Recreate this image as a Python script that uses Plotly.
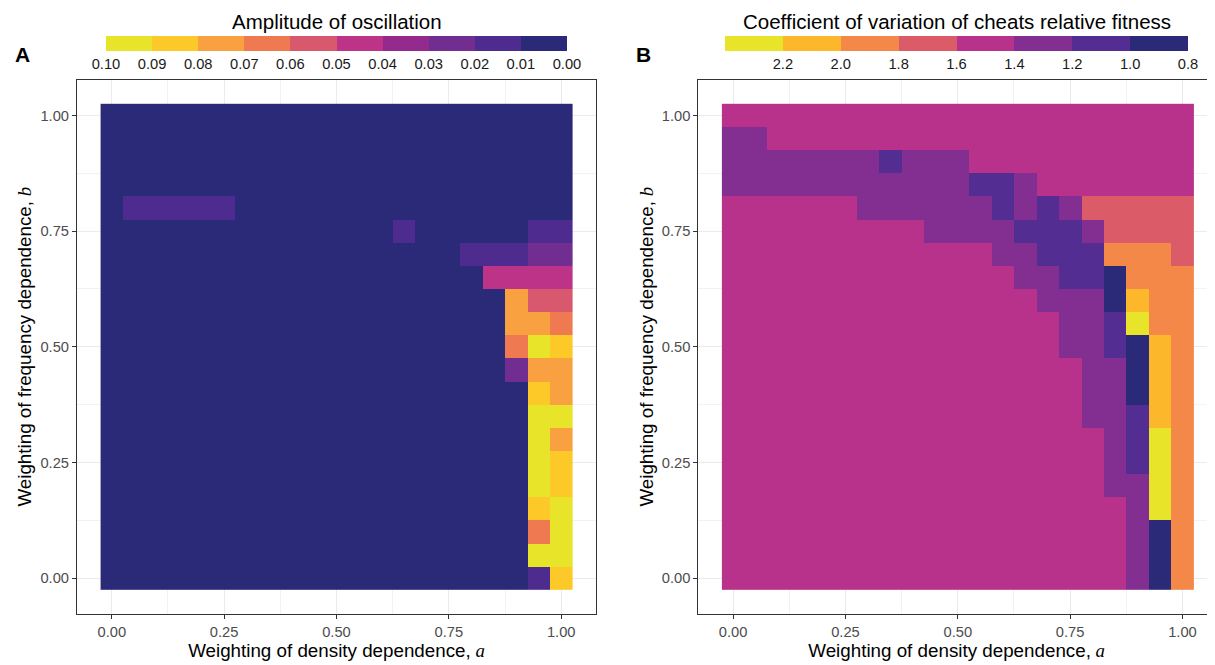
import plotly.graph_objects as go

# ---------------- data ----------------
a_vals = [0.00, 0.05, 0.10, 0.15, 0.20, 0.25, 0.30, 0.35, 0.40, 0.45, 0.50,
          0.55, 0.60, 0.65, 0.70, 0.75, 0.80, 0.85, 0.90, 0.95, 1.00]
b_vals = [1.00, 0.95, 0.90, 0.85, 0.80, 0.75, 0.70, 0.65, 0.60, 0.55, 0.50,
          0.45, 0.40, 0.35, 0.30, 0.25, 0.20, 0.15, 0.10, 0.05, 0.00]

# Panel A: amplitude of oscillation (rows follow b_vals, columns follow a_vals)
amplitude = [
    [0.005, 0.005, 0.005, 0.005, 0.005, 0.005, 0.005, 0.005, 0.005, 0.005, 0.005, 0.005, 0.005, 0.005, 0.005, 0.005, 0.005, 0.005, 0.005, 0.005, 0.005],
    [0.005, 0.005, 0.005, 0.005, 0.005, 0.005, 0.005, 0.005, 0.005, 0.005, 0.005, 0.005, 0.005, 0.005, 0.005, 0.005, 0.005, 0.005, 0.005, 0.005, 0.005],
    [0.005, 0.005, 0.005, 0.005, 0.005, 0.005, 0.005, 0.005, 0.005, 0.005, 0.005, 0.005, 0.005, 0.005, 0.005, 0.005, 0.005, 0.005, 0.005, 0.005, 0.005],
    [0.005, 0.005, 0.005, 0.005, 0.005, 0.005, 0.005, 0.005, 0.005, 0.005, 0.005, 0.005, 0.005, 0.005, 0.005, 0.005, 0.005, 0.005, 0.005, 0.005, 0.005],
    [0.005, 0.015, 0.015, 0.015, 0.015, 0.015, 0.005, 0.005, 0.005, 0.005, 0.005, 0.005, 0.005, 0.005, 0.005, 0.005, 0.005, 0.005, 0.005, 0.005, 0.005],
    [0.005, 0.005, 0.005, 0.005, 0.005, 0.005, 0.005, 0.005, 0.005, 0.005, 0.005, 0.005, 0.005, 0.015, 0.005, 0.005, 0.005, 0.005, 0.005, 0.015, 0.015],
    [0.005, 0.005, 0.005, 0.005, 0.005, 0.005, 0.005, 0.005, 0.005, 0.005, 0.005, 0.005, 0.005, 0.005, 0.005, 0.005, 0.015, 0.015, 0.015, 0.025, 0.025],
    [0.005, 0.005, 0.005, 0.005, 0.005, 0.005, 0.005, 0.005, 0.005, 0.005, 0.005, 0.005, 0.005, 0.005, 0.005, 0.005, 0.005, 0.045, 0.045, 0.045, 0.045],
    [0.005, 0.005, 0.005, 0.005, 0.005, 0.005, 0.005, 0.005, 0.005, 0.005, 0.005, 0.005, 0.005, 0.005, 0.005, 0.005, 0.005, 0.005, 0.075, 0.055, 0.055],
    [0.005, 0.005, 0.005, 0.005, 0.005, 0.005, 0.005, 0.005, 0.005, 0.005, 0.005, 0.005, 0.005, 0.005, 0.005, 0.005, 0.005, 0.005, 0.075, 0.075, 0.065],
    [0.005, 0.005, 0.005, 0.005, 0.005, 0.005, 0.005, 0.005, 0.005, 0.005, 0.005, 0.005, 0.005, 0.005, 0.005, 0.005, 0.005, 0.005, 0.065, 0.095, 0.085],
    [0.005, 0.005, 0.005, 0.005, 0.005, 0.005, 0.005, 0.005, 0.005, 0.005, 0.005, 0.005, 0.005, 0.005, 0.005, 0.005, 0.005, 0.005, 0.025, 0.075, 0.075],
    [0.005, 0.005, 0.005, 0.005, 0.005, 0.005, 0.005, 0.005, 0.005, 0.005, 0.005, 0.005, 0.005, 0.005, 0.005, 0.005, 0.005, 0.005, 0.005, 0.085, 0.075],
    [0.005, 0.005, 0.005, 0.005, 0.005, 0.005, 0.005, 0.005, 0.005, 0.005, 0.005, 0.005, 0.005, 0.005, 0.005, 0.005, 0.005, 0.005, 0.005, 0.095, 0.095],
    [0.005, 0.005, 0.005, 0.005, 0.005, 0.005, 0.005, 0.005, 0.005, 0.005, 0.005, 0.005, 0.005, 0.005, 0.005, 0.005, 0.005, 0.005, 0.005, 0.095, 0.075],
    [0.005, 0.005, 0.005, 0.005, 0.005, 0.005, 0.005, 0.005, 0.005, 0.005, 0.005, 0.005, 0.005, 0.005, 0.005, 0.005, 0.005, 0.005, 0.005, 0.095, 0.085],
    [0.005, 0.005, 0.005, 0.005, 0.005, 0.005, 0.005, 0.005, 0.005, 0.005, 0.005, 0.005, 0.005, 0.005, 0.005, 0.005, 0.005, 0.005, 0.005, 0.095, 0.085],
    [0.005, 0.005, 0.005, 0.005, 0.005, 0.005, 0.005, 0.005, 0.005, 0.005, 0.005, 0.005, 0.005, 0.005, 0.005, 0.005, 0.005, 0.005, 0.005, 0.085, 0.095],
    [0.005, 0.005, 0.005, 0.005, 0.005, 0.005, 0.005, 0.005, 0.005, 0.005, 0.005, 0.005, 0.005, 0.005, 0.005, 0.005, 0.005, 0.005, 0.005, 0.065, 0.095],
    [0.005, 0.005, 0.005, 0.005, 0.005, 0.005, 0.005, 0.005, 0.005, 0.005, 0.005, 0.005, 0.005, 0.005, 0.005, 0.005, 0.005, 0.005, 0.005, 0.095, 0.095],
    [0.005, 0.005, 0.005, 0.005, 0.005, 0.005, 0.005, 0.005, 0.005, 0.005, 0.005, 0.005, 0.005, 0.005, 0.005, 0.005, 0.005, 0.005, 0.005, 0.015, 0.085],
]

# Panel B: coefficient of variation of cheats relative fitness
cv_fitness = [
    [1.5, 1.5, 1.5, 1.5, 1.5, 1.5, 1.5, 1.5, 1.5, 1.5, 1.5, 1.5, 1.5, 1.5, 1.5, 1.5, 1.5, 1.5, 1.5, 1.5, 1.5],
    [1.3, 1.3, 1.5, 1.5, 1.5, 1.5, 1.5, 1.5, 1.5, 1.5, 1.5, 1.5, 1.5, 1.5, 1.5, 1.5, 1.5, 1.5, 1.5, 1.5, 1.5],
    [1.3, 1.3, 1.3, 1.3, 1.3, 1.3, 1.3, 1.1, 1.3, 1.3, 1.3, 1.5, 1.5, 1.5, 1.5, 1.5, 1.5, 1.5, 1.5, 1.5, 1.5],
    [1.3, 1.3, 1.3, 1.3, 1.3, 1.3, 1.3, 1.3, 1.3, 1.3, 1.3, 1.1, 1.1, 1.3, 1.5, 1.5, 1.5, 1.5, 1.5, 1.5, 1.5],
    [1.5, 1.5, 1.5, 1.5, 1.5, 1.5, 1.3, 1.3, 1.3, 1.3, 1.3, 1.3, 1.1, 1.3, 1.1, 1.3, 1.7, 1.7, 1.7, 1.7, 1.7],
    [1.5, 1.5, 1.5, 1.5, 1.5, 1.5, 1.5, 1.5, 1.5, 1.3, 1.3, 1.3, 1.3, 1.1, 1.1, 1.1, 1.3, 1.7, 1.7, 1.7, 1.7],
    [1.5, 1.5, 1.5, 1.5, 1.5, 1.5, 1.5, 1.5, 1.5, 1.5, 1.5, 1.5, 1.3, 1.3, 1.1, 1.1, 1.1, 1.9, 1.9, 1.9, 1.7],
    [1.5, 1.5, 1.5, 1.5, 1.5, 1.5, 1.5, 1.5, 1.5, 1.5, 1.5, 1.5, 1.5, 1.3, 1.3, 1.1, 1.1, 0.9, 1.9, 1.9, 1.9],
    [1.5, 1.5, 1.5, 1.5, 1.5, 1.5, 1.5, 1.5, 1.5, 1.5, 1.5, 1.5, 1.5, 1.5, 1.3, 1.3, 1.3, 0.9, 2.1, 1.9, 1.9],
    [1.5, 1.5, 1.5, 1.5, 1.5, 1.5, 1.5, 1.5, 1.5, 1.5, 1.5, 1.5, 1.5, 1.5, 1.5, 1.3, 1.3, 1.1, 2.3, 1.9, 1.9],
    [1.5, 1.5, 1.5, 1.5, 1.5, 1.5, 1.5, 1.5, 1.5, 1.5, 1.5, 1.5, 1.5, 1.5, 1.5, 1.3, 1.3, 1.1, 0.9, 2.1, 1.9],
    [1.5, 1.5, 1.5, 1.5, 1.5, 1.5, 1.5, 1.5, 1.5, 1.5, 1.5, 1.5, 1.5, 1.5, 1.5, 1.5, 1.3, 1.3, 0.9, 2.1, 1.9],
    [1.5, 1.5, 1.5, 1.5, 1.5, 1.5, 1.5, 1.5, 1.5, 1.5, 1.5, 1.5, 1.5, 1.5, 1.5, 1.5, 1.3, 1.3, 0.9, 2.1, 1.9],
    [1.5, 1.5, 1.5, 1.5, 1.5, 1.5, 1.5, 1.5, 1.5, 1.5, 1.5, 1.5, 1.5, 1.5, 1.5, 1.5, 1.3, 1.3, 1.1, 2.1, 1.9],
    [1.5, 1.5, 1.5, 1.5, 1.5, 1.5, 1.5, 1.5, 1.5, 1.5, 1.5, 1.5, 1.5, 1.5, 1.5, 1.5, 1.5, 1.3, 1.1, 2.3, 1.9],
    [1.5, 1.5, 1.5, 1.5, 1.5, 1.5, 1.5, 1.5, 1.5, 1.5, 1.5, 1.5, 1.5, 1.5, 1.5, 1.5, 1.5, 1.3, 1.1, 2.3, 1.9],
    [1.5, 1.5, 1.5, 1.5, 1.5, 1.5, 1.5, 1.5, 1.5, 1.5, 1.5, 1.5, 1.5, 1.5, 1.5, 1.5, 1.5, 1.3, 1.3, 2.3, 1.9],
    [1.5, 1.5, 1.5, 1.5, 1.5, 1.5, 1.5, 1.5, 1.5, 1.5, 1.5, 1.5, 1.5, 1.5, 1.5, 1.5, 1.5, 1.5, 1.3, 2.3, 1.9],
    [1.5, 1.5, 1.5, 1.5, 1.5, 1.5, 1.5, 1.5, 1.5, 1.5, 1.5, 1.5, 1.5, 1.5, 1.5, 1.5, 1.5, 1.5, 1.3, 0.9, 1.9],
    [1.5, 1.5, 1.5, 1.5, 1.5, 1.5, 1.5, 1.5, 1.5, 1.5, 1.5, 1.5, 1.5, 1.5, 1.5, 1.5, 1.5, 1.5, 1.3, 0.9, 1.9],
    [1.5, 1.5, 1.5, 1.5, 1.5, 1.5, 1.5, 1.5, 1.5, 1.5, 1.5, 1.5, 1.5, 1.5, 1.5, 1.5, 1.5, 1.5, 1.3, 0.9, 1.9],
]

# colour-bar breaks (left to right as drawn)
amp_breaks = [0.10, 0.09, 0.08, 0.07, 0.06, 0.05, 0.04, 0.03, 0.02, 0.01, 0.00]
amp_labels = ["0.10", "0.09", "0.08", "0.07", "0.06", "0.05", "0.04", "0.03", "0.02", "0.01", "0.00"]
cv_breaks = [2.4, 2.2, 2.0, 1.8, 1.6, 1.4, 1.2, 1.0, 0.8]
cv_labels = ["", "2.2", "2.0", "1.8", "1.6", "1.4", "1.2", "1.0", "0.8"]
axis_ticks = [0.0, 0.25, 0.5, 0.75, 1.0]
axis_ticklabels = ["0.00", "0.25", "0.50", "0.75", "1.00"]

# ---------------- styling ----------------
amp_colors = ["#e7e42a", "#fcc929", "#f9a040", "#ef7a51", "#d8596d",
              "#bc3387", "#942a8e", "#712d8f", "#4d2b8f", "#2b2a78"]
cv_colors = ["#e7e42a", "#fdb72a", "#f48849", "#db5c68",
             "#b8318a", "#832f92", "#532d91", "#2b2a78"]


def stepped(colors):
    n = len(colors)
    scale = []
    for i, c in enumerate(colors):
        scale.append([i / n, c])
        scale.append([(i + 1) / n, c])
    return scale


FONT = "Liberation Sans, Arial, Helvetica, sans-serif"
WIN_W, WIN_H = 1215, 665
OFF = 8                      # default page margin around the plot div
W, H = WIN_W - OFF, WIN_H - OFF


def px(x):   # window x pixel -> paper fraction
    return (x - OFF) / W


def py(y):   # window y pixel -> paper fraction
    return 1 - (y - OFF) / H


neg_amp = [[-v for v in row] for row in amplitude]
neg_cv = [[-v for v in row] for row in cv_fitness]

cb_common = dict(
    orientation="h", xanchor="center", lenmode="fraction",
    y=py(36), yanchor="top", thickness=15, thicknessmode="pixels",
    xpad=0, ypad=0, outlinewidth=0, ticks="", tickmode="array",
    tickfont=dict(family=FONT, size=14.7, color="#1a1a1a"),
)

fig = go.Figure()
fig.add_trace(go.Heatmap(
    x=a_vals, y=b_vals, z=neg_amp, customdata=amplitude,
    zmin=-amp_breaks[0], zmax=-amp_breaks[-1],
    colorscale=stepped(amp_colors), xaxis="x", yaxis="y",
    hovertemplate="a=%{x:.2f}<br>b=%{y:.2f}<br>amplitude=%{customdata:.3f}<extra></extra>",
    colorbar=dict(x=px(336.5), len=461 / W,
                  tickvals=[-v for v in amp_breaks], ticktext=amp_labels, **cb_common),
))
fig.add_trace(go.Heatmap(
    x=a_vals, y=b_vals, z=neg_cv, customdata=cv_fitness,
    zmin=-cv_breaks[0], zmax=-cv_breaks[-1],
    colorscale=stepped(cv_colors), xaxis="x2", yaxis="y2",
    hovertemplate="a=%{x:.2f}<br>b=%{y:.2f}<br>CV=%{customdata:.2f}<extra></extra>",
    colorbar=dict(x=px(956.5), len=463 / W,
                  tickvals=[-v for v in cv_breaks], ticktext=cv_labels, **cb_common),
))

ydom = [py(614), py(79.5)]
axis_common = dict(
    tickmode="array", tickvals=axis_ticks, ticktext=axis_ticklabels,
    ticks="outside", ticklen=4, tickwidth=1, tickcolor="#333333",
    tickfont=dict(family=FONT, size=14.7, color="#4d4d4d"),
    showline=True, linecolor="#333333", linewidth=1, mirror=True,
    showgrid=True, gridcolor="#ebebeb", gridwidth=1.2,
    minor=dict(tickmode="array", tickvals=[0.125, 0.375, 0.625, 0.875],
               showgrid=True, gridcolor="#f2f2f2", gridwidth=0.6, ticks=""),
    zeroline=False, fixedrange=True,
)
title_size = 18.8
xtitle = dict(text="Weighting of density dependence,<span style=\"font-family:'Liberation Serif'\"><i> a</i></span>",
              font=dict(family=FONT, size=title_size, color="#000000"), standoff=4)
ytitle = dict(text="Weighting of frequency dependence,<span style=\"font-family:'Liberation Serif'\"><i> b</i></span>",
              font=dict(family=FONT, size=title_size, color="#000000"), standoff=3)

px_per_unit = (596 - 77) / 1.155
legend_title_font = dict(family=FONT, size=20.5, color="#000000")
fig.update_layout(
    width=W, height=H, margin=dict(l=0, r=0, t=0, b=0, autoexpand=False),
    paper_bgcolor="white", plot_bgcolor="white",
    font=dict(family=FONT),
    xaxis=dict(domain=[px(77), px(596)], range=[-0.0775, 1.0775], anchor="y",
               title=xtitle, **axis_common),
    yaxis=dict(domain=ydom, range=[-0.0775, 1.0775], anchor="x",
               title=ytitle, **axis_common),
    xaxis2=dict(domain=[px(698.3), 1.0],
                range=[-0.0775, -0.0775 + (WIN_W - 698.3) / px_per_unit], anchor="y2",
                title=xtitle, **axis_common),
    yaxis2=dict(domain=ydom, range=[-0.0775, 1.0775], anchor="x2",
                title=ytitle, **axis_common),
    annotations=[
        dict(text="<b>A</b>", x=px(13), y=py(54), xref="paper", yref="paper",
             xanchor="left", yanchor="middle", showarrow=False,
             font=dict(family=FONT, size=21, color="#000000")),
        dict(text="<b>B</b>", x=px(634), y=py(54), xref="paper", yref="paper",
             xanchor="left", yanchor="middle", showarrow=False,
             font=dict(family=FONT, size=21, color="#000000")),
        dict(text="Amplitude of oscillation", x=px(336.5), y=py(21),
             xref="paper", yref="paper", xanchor="center", yanchor="middle",
             showarrow=False, font=legend_title_font),
        dict(text="Coefficient of variation of cheats relative fitness", x=px(956.5), y=py(21),
             xref="paper", yref="paper", xanchor="center", yanchor="middle",
             showarrow=False, font=legend_title_font),
    ],
)

fig.write_html("out.html")
